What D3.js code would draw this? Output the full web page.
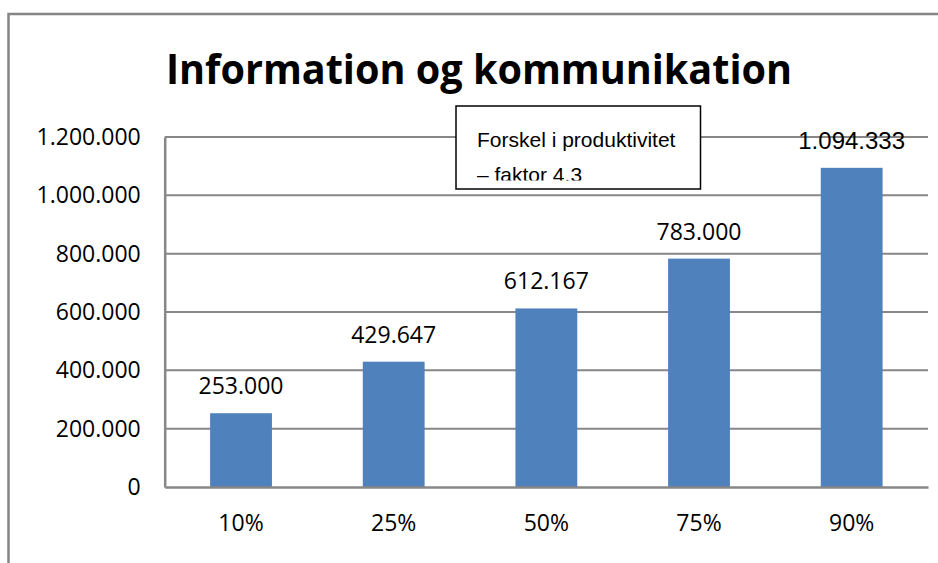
<!DOCTYPE html>
<html>
<head>
<meta charset="utf-8">
<script src="https://cdn.jsdelivr.net/npm/d3@7"></script>
<style>
  html, body { margin: 0; padding: 0; background: #fff; }
  svg { display: block; }
</style>
</head>
<body>
<div id="chart"></div>
<script>
// data
const categories = ["10%", "25%", "50%", "75%", "90%"];
const values = [253000, 429647, 612167, 783000, 1094333];
const yTicks = [0, 200000, 400000, 600000, 800000, 1000000, 1200000];
const titleText = "Information og kommunikation";
const noteLines = ["Forskel i produktivitet", "– faktor 4.3"];

const width = 938, height = 563;
const plot = { left: 164.7, right: 928, top: 137, bottom: 487 };

// danish number format: 1.094.333
const fmt = d3.formatLocale({ decimal: ",", thousands: ".", grouping: [3], currency: ["", " kr."] }).format(",d");

const svg = d3.select("#chart").append("svg")
	.attr("width", width)
	.attr("height", height);

// outer chart frame (cut off at right/bottom)
svg.append("path")
	.attr("d", `M8.5,${height + 5}V14H${width + 5}`)
	.attr("fill", "none")
	.attr("stroke", "#858585")
	.attr("stroke-width", 2.5);

const x = d3.scaleBand()
	.domain(categories)
	.range([plot.left, plot.right])
	.paddingInner(0.595)
	.paddingOuter(0.2975);

const y = d3.scaleLinear()
	.domain([0, 1200000])
	.range([plot.bottom, plot.top]);

// title
svg.append("text")
	.attr("x", 166)
	.attr("y", 83.5)
	.attr("textLength", 626)
	.attr("lengthAdjust", "spacingAndGlyphs")
	.style("font-family", "'Open Sans', sans-serif")
	.style("font-weight", "bold")
	.style("font-size", "41.5px")
	.text(titleText);

// gridlines
svg.append("g")
	.selectAll("line")
	.data(yTicks.filter(d => d > 0))
	.join("line")
	.attr("x1", plot.left)
	.attr("x2", plot.right)
	.attr("y1", d => y(d))
	.attr("y2", d => y(d))
	.attr("stroke", "#878787")
	.attr("stroke-width", 2);

// y axis
const yAxis = svg.append("g")
	.attr("transform", `translate(${plot.left},0)`)
	.call(d3.axisLeft(y).tickValues(yTicks).tickFormat(fmt).tickSize(0).tickPadding(24));
yAxis.select(".domain").attr("stroke", "#878787").attr("stroke-width", 2.5);
yAxis.selectAll("text")
	.style("font-family", "'Open Sans', sans-serif")
	.style("font-size", "23px")
	.attr("fill", "#000");

// bars
svg.append("g")
	.selectAll("rect")
	.data(values)
	.join("rect")
	.attr("x", (d, i) => x(categories[i]))
	.attr("y", d => y(d))
	.attr("width", x.bandwidth())
	.attr("height", d => y(0) - y(d))
	.attr("fill", "#4f81bd");

// x axis
const xAxis = svg.append("g")
	.attr("transform", `translate(0,${plot.bottom})`)
	.call(d3.axisBottom(x).tickSize(0).tickPadding(28));
xAxis.select(".domain").attr("stroke", "#878787").attr("stroke-width", 2.5);
xAxis.selectAll("text")
	.style("font-family", "'Open Sans', sans-serif")
	.style("font-size", "23px")
	.attr("fill", "#000");

// value labels
svg.append("g")
	.selectAll("text")
	.data(values)
	.join("text")
	.attr("x", (d, i) => x(categories[i]) + x.bandwidth() / 2)
	.attr("y", d => y(d) - 19)
	.attr("text-anchor", "middle")
	.style("font-family", (d, i) => i === values.length - 1 ? "'Liberation Sans', Arial, sans-serif" : "'Open Sans', sans-serif")
	.style("font-size", (d, i) => i === values.length - 1 ? "24px" : "23px")
	.text(d => fmt(d));

// annotation box
const note = svg.append("g");
note.append("clipPath")
	.attr("id", "noteClip")
	.append("rect")
	.attr("x", 456).attr("y", 106)
	.attr("width", 245).attr("height", 74.5);
note.append("rect")
	.attr("x", 456).attr("y", 106)
	.attr("width", 244.5).attr("height", 83)
	.attr("fill", "#fff")
	.attr("stroke", "#000")
	.attr("stroke-width", 1.5);
note.append("g")
	.attr("clip-path", "url(#noteClip)")
	.selectAll("text")
	.data(noteLines)
	.join("text")
	.attr("x", 477)
	.attr("y", (d, i) => 147 + i * 34.5)
	.style("font-family", "'Liberation Sans', Arial, sans-serif")
	.style("font-size", "21px")
	.text(d => d);
</script>
</body>
</html>
